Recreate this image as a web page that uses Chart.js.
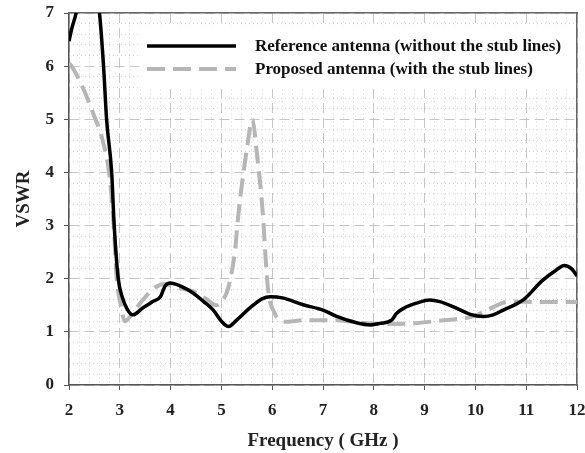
<!DOCTYPE html>
<html>
<head>
<meta charset="utf-8">
<script src="https://cdn.jsdelivr.net/npm/chart.js@4.4.1/dist/chart.umd.min.js"></script>
<style>
  html, body { margin: 0; padding: 0; background: #fff; }
</style>
</head>
<body>
<canvas id="vswrChart" width="585" height="453"></canvas>
<script>
// VSWR vs frequency, reference antenna (no stubs)
var refFreq = [2.0, 2.05, 2.14, 2.37, 2.6, 2.68, 2.74, 2.84, 2.89, 2.97, 3.05, 3.15, 3.26, 3.45, 3.65, 3.8, 3.89, 3.99,
               4.2, 4.44, 4.65, 4.84, 5.0, 5.14, 5.3, 5.56, 5.8, 5.96, 6.2, 6.61, 7.0, 7.27, 7.66, 7.93, 8.12, 8.35,
               8.45, 8.6, 8.84, 9.1, 9.3, 9.57, 9.9, 10.16, 10.35, 10.55, 10.94, 11.3, 11.6, 11.75, 11.9, 12.0];
var refVswr = [6.47, 6.69, 7.0, 8.3, 7.0, 6.0, 5.0, 4.0, 3.0, 2.0, 1.65, 1.42, 1.32, 1.45, 1.57, 1.66, 1.86, 1.92,
               1.86, 1.73, 1.57, 1.41, 1.2, 1.1, 1.22, 1.45, 1.62, 1.66, 1.64, 1.51, 1.41, 1.29, 1.17, 1.13, 1.16, 1.22,
               1.35, 1.45, 1.54, 1.6, 1.57, 1.47, 1.33, 1.29, 1.32, 1.41, 1.6, 1.95, 2.17, 2.25, 2.18, 2.05];

// VSWR vs frequency, proposed antenna (with stubs)
var propFreq = [2.0, 2.05, 2.28, 2.5, 2.65, 2.8, 2.88, 2.94, 3.02, 3.1, 3.2, 3.4, 3.69, 3.9, 4.05, 4.44, 4.7, 4.9,
                5.02, 5.14, 5.27, 5.33, 5.5, 5.61, 5.69, 5.82, 5.86, 5.92, 6.05, 6.15, 6.3, 6.61, 7.27, 7.86, 8.3,
                8.78, 9.37, 9.96, 10.29, 10.68, 11.33, 12.0];
var propVswr = [6.05, 6.0, 5.58, 5.05, 4.65, 3.9, 3.0, 2.0, 1.5, 1.2, 1.28, 1.54, 1.83, 1.9, 1.85, 1.76, 1.62, 1.5,
                1.58, 1.85, 2.54, 3.17, 4.43, 4.99, 4.43, 3.17, 2.54, 1.79, 1.35, 1.22, 1.19, 1.22, 1.22, 1.16, 1.15,
                1.16, 1.22, 1.29, 1.44, 1.57, 1.56, 1.56];

var seriesNames = ['Reference antenna (without the stub lines)', 'Proposed antenna (with the stub lines)'];
var xRange = [2, 12];
var yRange = [0, 7];

function toPoints(xs, ys) {
    var pts = [];
    for (var i = 0; i < xs.length; i++) {
        pts.push({ x: xs[i], y: ys[i] });
    }
    return pts;
}

function isWhole(v) {
    return Math.abs(v - Math.round(v)) < 1e-6;
}

var serif = '"Liberation Serif", "Times New Roman", serif';

// legend sits inside the plot on a white patch
var boxLegend = {
    id: 'boxLegend',
    beforeDatasetsDraw: function (chart) {
        var ctx = chart.ctx;
        var area = chart.chartArea;
        ctx.save();
        ctx.fillStyle = '#fff';
        ctx.fillRect(area.left + 71, area.top + 13, area.right - area.left - 73, 63);
        chart.data.datasets.forEach(function (ds, i) {
            var y = area.top + 33 + i * 23;
            ctx.beginPath();
            ctx.strokeStyle = ds.borderColor;
            ctx.lineWidth = ds.borderWidth;
            ctx.setLineDash(ds.borderDash || []);
            ctx.moveTo(area.left + 78, y);
            ctx.lineTo(area.left + 167, y);
            ctx.stroke();
            ctx.setLineDash([]);
            ctx.fillStyle = '#111';
            ctx.font = 'bold 17px ' + serif;
            ctx.textBaseline = 'middle';
            ctx.fillText(ds.label, area.left + 186, y + 1);
        });
        ctx.restore();
    }
};

var ctx = document.getElementById('vswrChart').getContext('2d');
var chart = new Chart(ctx, {
    type: 'line',
    data: {
        datasets: [{
            label: seriesNames[0],
            data: toPoints(refFreq, refVswr),
            borderColor: '#000',
            borderWidth: 3.5,
            pointRadius: 0,
            fill: false,
            cubicInterpolationMode: 'monotone'
        }, {
            label: seriesNames[1],
            data: toPoints(propFreq, propVswr),
            borderColor: '#b6b6b6',
            borderWidth: 4,
            borderDash: [18, 8],
            pointRadius: 0,
            fill: false,
            cubicInterpolationMode: 'monotone'
        }]
    },
    options: {
        responsive: false,
        animation: false,
        devicePixelRatio: 1,
        layout: { padding: { left: 0, right: 0, top: 13, bottom: 0 } },
        plugins: {
            legend: { display: false },
            tooltip: { enabled: false }
        },
        scales: {
            x: {
                type: 'linear',
                position: 'bottom',
                min: xRange[0],
                max: xRange[1],
                afterFit: function (scale) {
                    scale.height = 68;
                    scale.paddingLeft = 0;
                    scale.paddingRight = 8;
                },
                ticks: {
                    stepSize: 1,
                    color: '#222',
                    padding: 10,
                    font: { family: serif, size: 17, weight: 'bold' }
                },
                grid: { color: '#c6c6c6', lineWidth: 1, tickColor: '#555', tickLength: 5 },
                border: { color: '#555', width: 1.5, dash: [10, 5] },
                title: {
                    display: true,
                    text: 'Frequency ( GHz )',
                    color: '#222',
                    padding: { top: 0, bottom: 1 },
                    font: { family: serif, size: 19, weight: 'bold' }
                }
            },
            y: {
                type: 'linear',
                position: 'left',
                min: yRange[0],
                max: yRange[1],
                afterFit: function (scale) {
                    scale.width = 69;
                    scale.paddingTop = 0;
                    scale.paddingBottom = 0;
                },
                ticks: {
                    stepSize: 1,
                    color: '#222',
                    padding: 10,
                    font: { family: serif, size: 17, weight: 'bold' }
                },
                grid: { color: '#c6c6c6', lineWidth: 1, tickColor: '#555', tickLength: 5 },
                border: { color: '#555', width: 1.5, dash: [10, 5] },
                title: {
                    display: true,
                    text: 'VSWR',
                    color: '#222',
                    padding: { top: 13, bottom: 0 },
                    font: { family: serif, size: 19, weight: 'bold' }
                }
            },
            // minor grid + top frame
            x2: {
                type: 'linear',
                position: 'top',
                min: xRange[0],
                max: xRange[1],
                afterFit: function (scale) { scale.height = 0; },
                ticks: { display: false, stepSize: 0.2 },
                grid: {
                    drawTicks: false,
                    color: function (c) { return isWhole(c.tick.value) ? 'rgba(0,0,0,0)' : '#d2d2d2'; }
                },
                border: { color: '#666', width: 1.5, dash: [1, 3] }
            },
            // minor grid + right frame
            y2: {
                type: 'linear',
                position: 'right',
                min: yRange[0],
                max: yRange[1],
                afterFit: function (scale) { scale.width = 0; },
                ticks: { display: false, stepSize: 0.2 },
                grid: {
                    drawTicks: false,
                    color: function (c) { return isWhole(c.tick.value) ? 'rgba(0,0,0,0)' : '#d2d2d2'; }
                },
                border: { color: '#666', width: 1.5, dash: [1, 3] }
            }
        }
    },
    plugins: [boxLegend]
});
</script>
</body>
</html>
